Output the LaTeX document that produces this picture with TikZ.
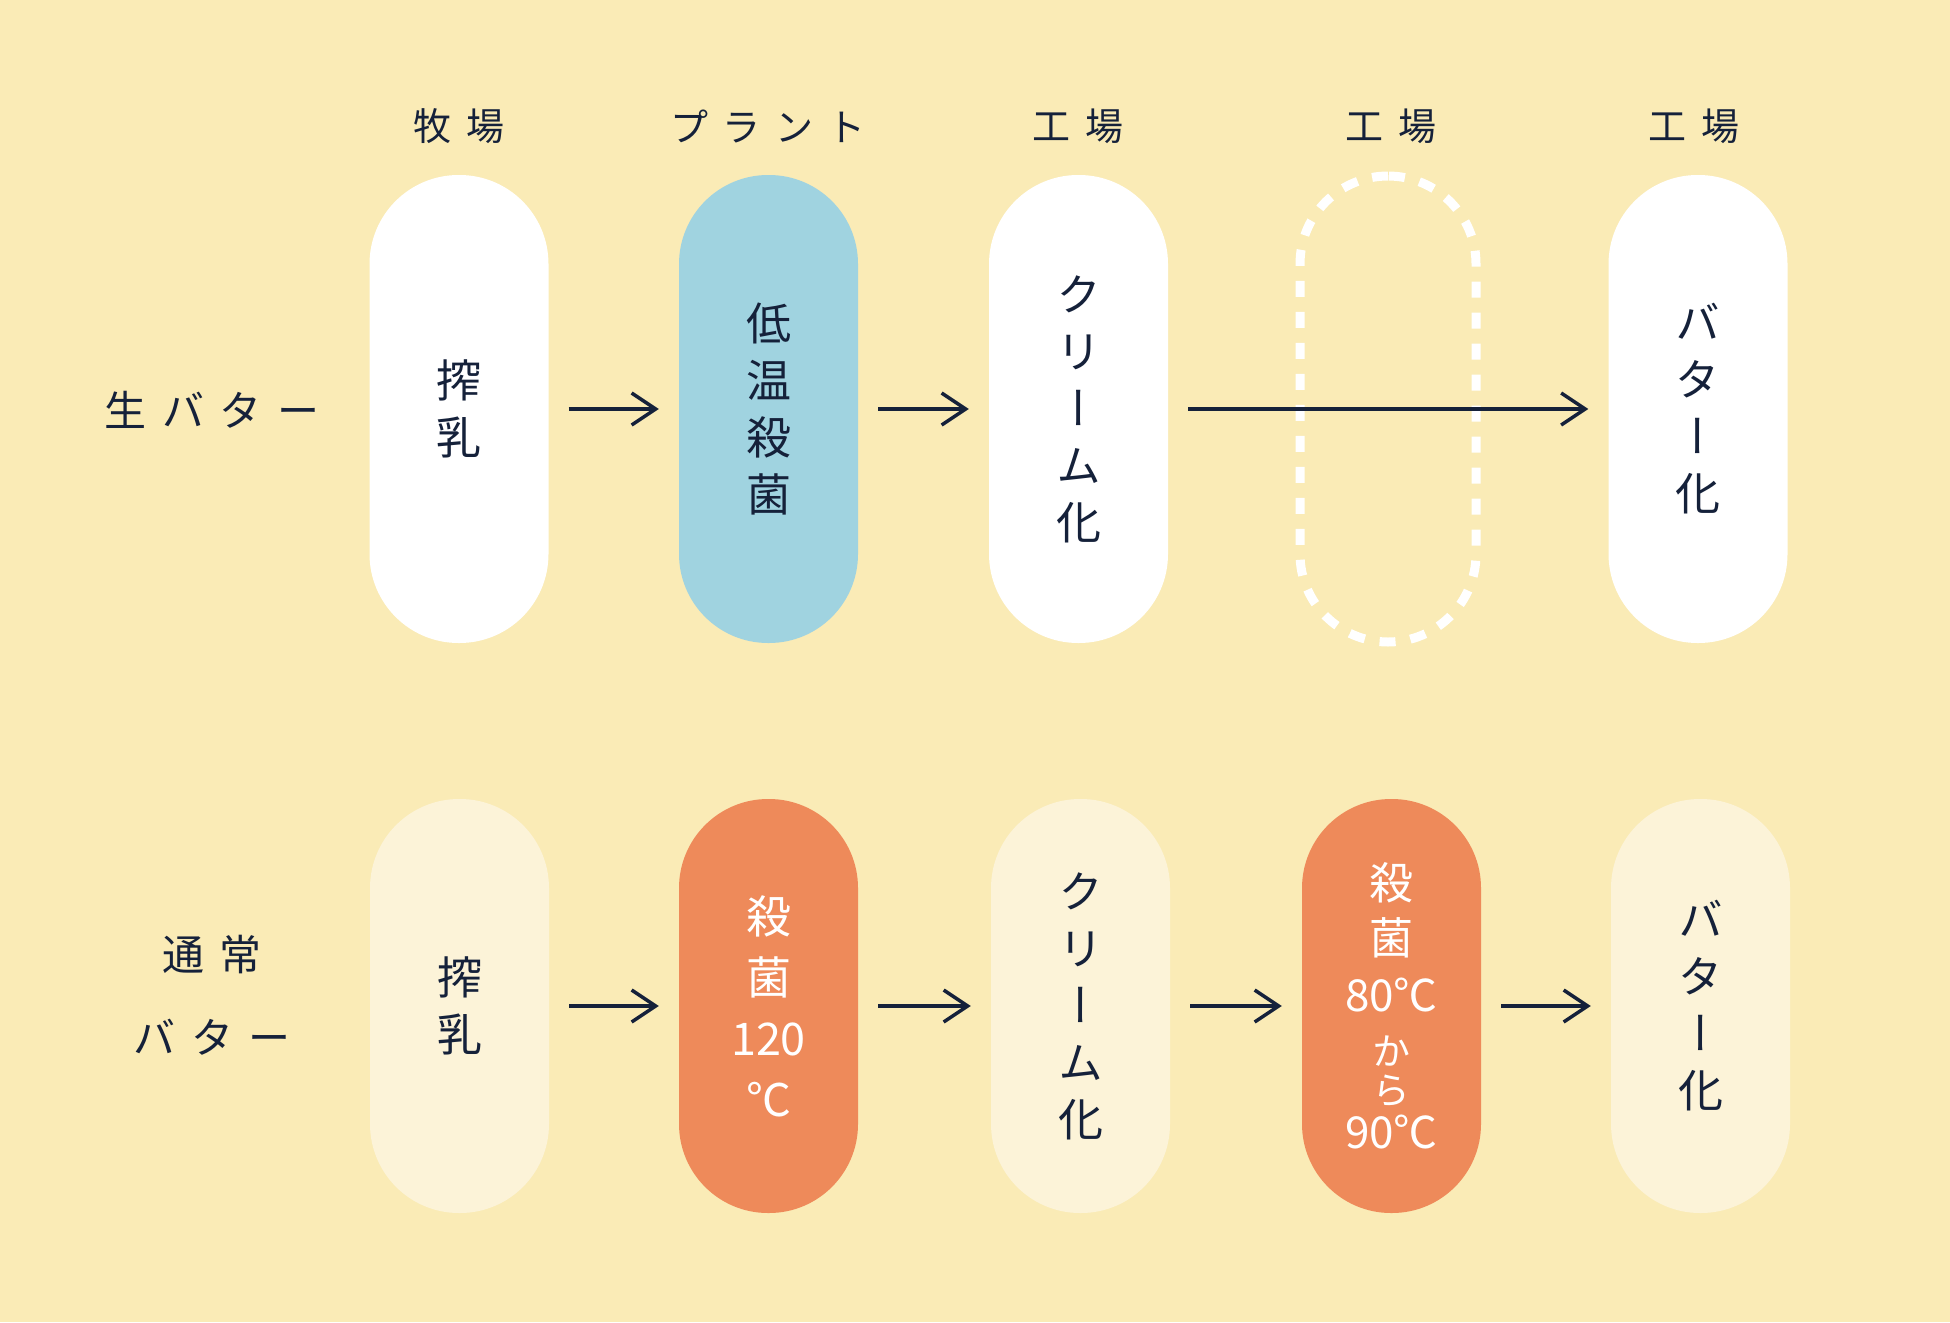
\documentclass[tikz,border=0pt]{standalone}
\usepackage{fontspec}
\setmainfont{Noto Sans CJK JP}
\newfontfamily\jpv{Noto Sans CJK JP}[RawFeature=+vert]
\usetikzlibrary{arrows.meta}
\definecolor{bg}{HTML}{FAEBB6}
\definecolor{navy}{HTML}{15213A}
\definecolor{skyblue}{HTML}{A0D3E0}
\definecolor{orangep}{HTML}{EE8A5A}
\definecolor{cream}{HTML}{FCF3D8}
\newcommand{\gapj}{\hspace{0.38em}}
\newcommand{\smallkana}[1]{{\fontsize{38}{40}\selectfont #1}}
\begin{document}
\begin{tikzpicture}[x=1pt,y=-1pt,
  pill/.style={rectangle, rounded corners=89pt, minimum width=179pt, inner sep=0pt, align=center, text=navy},
  toppill/.style={pill, minimum height=468pt},
  botpill/.style={pill, minimum height=414pt},
  ptext/.style={font=\jpv\fontsize{45}{57}\selectfont},
  wtext/.style={text=white, font=\jpv\fontsize{45}{61}\selectfont},
  head/.style={text=navy, font=\fontsize{38}{46}\selectfont, inner sep=0pt},
  rowlab/.style={text=navy, font=\fontsize{42}{83}\selectfont, align=center, inner sep=0pt},
  arr/.style={navy, line width=3.5pt, -{Straight Barb[length=24pt,width=32pt]}, shorten <=20pt, shorten >=20pt}]
\fill[bg] (0,0) rectangle (1950,1322);
\useasboundingbox (0,0) rectangle (1950,1322);
% headers
\node[head] (h1) at (459,126) {牧\gapj 場};
\node[head] (h2) at (768,126) {プ\gapj ラ\gapj ン\gapj ト};
\node[head] (h3) at (1078,126) {工\gapj 場};
\node[head] (h4) at (1391,126) {工\gapj 場};
\node[head] (h5) at (1694,126) {工\gapj 場};
% row labels
\node[rowlab] (r1) at (212,410) {生\gapj バ\gapj タ\gapj ー};
\node[rowlab] (r2) at (212,995) {通\gapj 常\\バ\gapj タ\gapj ー};
% top row
\node[toppill, fill=white, ptext] (a1) at (459,409) {搾\\乳};
\node[toppill, fill=skyblue, ptext] (a2) at (768.5,409) {低\\温\\殺\\菌};
\node[toppill, fill=white, ptext] (a3) at (1078.5,409) {ク\\リ\\ー\\ム\\化};
\node[pill, minimum width=176pt, minimum height=466pt, rounded corners=88pt, draw=white, line width=9pt, dash pattern=on 16pt off 15pt] (a4) at (1388,409) {};
\node[toppill, fill=white, ptext] (a5) at (1698,409) {バ\\タ\\ー\\化};
% bottom row
\node[botpill, fill=cream, ptext] (b1) at (459.5,1006) {搾\\乳};
\node[botpill, fill=orangep, wtext] (b2) at (768.5,1006) {殺\\菌\\120\\℃};
\node[botpill, fill=cream, ptext] (b3) at (1080.5,1006) {ク\\リ\\ー\\ム\\化};
\node[botpill, fill=orangep, text=white, font=\jpv\fontsize{44}{55}\selectfont] (b4) at (1391.5,1006)
  {殺\\[0pt]菌\\[2pt]80℃\\[-1pt]\smallkana{か}\\[-16.5pt]\smallkana{ら}\\[-10.5pt]90℃};
\node[botpill, fill=cream, ptext] (b5) at (1700.5,1006) {バ\\タ\\ー\\化};
% arrows
\draw[arr] (a1.east) -- (a2.west);
\draw[arr] (a2.east) -- (a3.west);
\draw[arr] (a3.east) -- (a5.west);
\draw[arr] (b1.east) -- (b2.west);
\draw[arr] (b2.east) -- (b3.west);
\draw[arr] (b3.east) -- (b4.west);
\draw[arr] (b4.east) -- (b5.west);
\end{tikzpicture}
\end{document}
